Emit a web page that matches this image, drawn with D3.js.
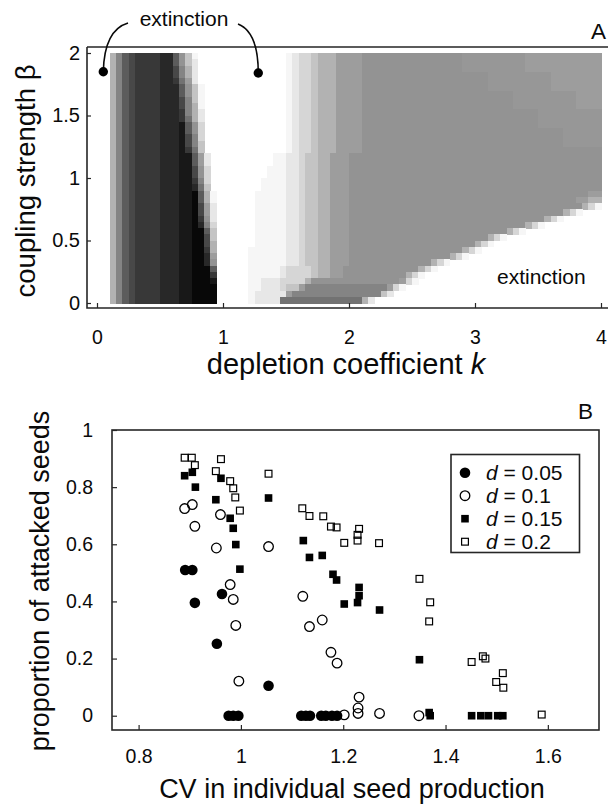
<!DOCTYPE html>
<html><head><meta charset="utf-8">
<script src="https://cdn.jsdelivr.net/npm/d3@7"></script>
<style>
body{margin:0;background:#fff}
svg{display:block}
text{font-family:"Liberation Sans",Arial,Helvetica,sans-serif;fill:#0a0a0a}
</style>
</head><body>
<svg id="chart" width="608" height="807"></svg>
<script>
// ---------------- DATA ----------------
// Panel A
const kTicks = [0, 1, 2, 3, 4];
const betaTicks = [0, 0.5, 1, 1.5, 2];
const heatKRange = [0.1, 4.0];      // k extent covered by the grid
const heatBetaRange = [0, 2];       // beta extent covered by the grid
// grey level per cell (0 = white ... f = black, u = between 6 and 7), rows from beta=2 (top) down to beta=0
const heatRows = [
 "58abccccdd"+"a741"+"00000000"+"000000"+"123345556666"+"7777777777"+"777777"+"uuuuuuuuuu"+"666666666666",
 "58abccccdd"+"a742"+"00000000"+"000000"+"123345556666"+"7777777777"+"777777"+"uuuuuuuuuu"+"666666666666",
 "58abccccdd"+"b852"+"00000000"+"000000"+"123345556666"+"7777777777"+"777777"+"uuuuuuuuuu"+"666666666666",
 "58abccccdd"+"b852"+"00000000"+"000000"+"123345556666"+"7777777777"+"7777777777"+"uuuuuuuuuu"+"66666666",
 "58abccccdd"+"c962"+"00000000"+"000000"+"123345556666"+"7777777777"+"7777777777"+"uuuuuuuuuu"+"66666666",
 "58abccccddd"+"a741"+"0000000"+"000000"+"123345556666"+"7777777777"+"7777777777"+"uuuuuuuuuu"+"66666666",
 "58abccccddd"+"a741"+"0000000"+"000000"+"123345556666"+"7777777777"+"7777777777"+"7777"+"uuuuuuuuuu"+"6666",
 "58abccccddd"+"b841"+"0000000"+"000000"+"123345556666"+"7777777777"+"7777777777"+"7777"+"uuuuuuuuuu"+"6666",
 "58abccccddd"+"b851"+"0000000"+"000000"+"123345556666"+"7777777777"+"7777777777"+"7777"+"uuuuuuuuuu"+"6666",
 "58abccccddd"+"c852"+"0000000"+"000000"+"123345556666"+"7777777777"+"7777777777"+"77777777"+"uuuuuuuuuu",
 "58abccccddd"+"c952"+"0000000"+"000000"+"123345556666"+"7777777777"+"7777777777"+"77777777"+"uuuuuuuuuu",
 "58abccccddde"+"a73"+"0000000"+"000000"+"123345556666"+"7777777777"+"7777777777"+"77777777"+"uuuuuuuuuu",
 "58abccccddde"+"a73"+"0000000"+"000000"+"123345556666"+"7777777777"+"7777777777"+"7777777777"+"77"+"uuuuuu",
 "58abccccddde"+"b83"+"0000000"+"000000"+"123345556666"+"7777777777"+"7777777777"+"7777777777"+"77"+"uuuuuu",
 "58abccccddde"+"b84"+"0000000"+"000000"+"123345556666"+"7777777777"+"7777777777"+"7777777777"+"77"+"uuuuuu",
 "58abccccddde"+"c94"+"0000000"+"000000"+"123345556666"+"7777777777"+"7777777777"+"7777777777"+"77777777",
 "58abccccdddee"+"a62"+"000000"+"000011"+"223445566677"+"7777777777"+"7777777777"+"7777777777"+"77777777",
 "58abccccdddee"+"a62"+"000000"+"000011"+"223445566677"+"7777777777"+"7777777777"+"7777777777"+"77777777",
 "58abccccdddee"+"b73"+"000000"+"000111"+"223445566677"+"7777777777"+"7777777777"+"7777777777"+"77777777",
 "58abccccdddee"+"b73"+"000000"+"000111"+"223445566677"+"7777777777"+"7777777777"+"7777777777"+"77777777",
 "58abccccdddee"+"c83"+"000000"+"001111"+"223445566677"+"7777777777"+"7777777777"+"7777777777"+"77777777",
 "58abccccdddee"+"d94"+"000000"+"001111"+"223445566677"+"7777777777"+"7777777777"+"7777777777"+"77777777",
 "58abccccdddeef"+"a51"+"00000"+"011111"+"223445566677"+"7777777777"+"7777777777"+"7777777777"+"777777"+"66",
 "58abccccdddeef"+"a51"+"00000"+"011111"+"223445566677"+"7777777777"+"7777777777"+"7777777777"+"7777"+"6655",
 "58abccccdddeef"+"b62"+"00000"+"011111"+"223445566677"+"7777777777"+"7777777777"+"7777777777"+"77777"+"531",
 "58abccccdddeef"+"b62"+"00000"+"011111"+"223445566677"+"7777777777"+"7777777777"+"7777777777"+"77"+"531"+"000",
 "58abccccdddeef"+"c72"+"00000"+"011111"+"223445566677"+"7777777777"+"7777777777"+"777777777"+"531"+"000000",
 "58abccccdddeef"+"d83"+"00000"+"011111"+"223445566677"+"7777777777"+"7777777777"+"777777"+"531"+"000000000",
 "58abccccdddeeff"+"a4"+"00000"+"011111"+"223445566677"+"7777777777"+"7777777777"+"777"+"531"+"0000000000"+"00",
 "58abccccdddeeff"+"b4"+"00000"+"011111"+"223445566677"+"7777777777"+"7777777777"+"531"+"0000000000"+"00000",
 "58abccccdddeeff"+"b5"+"00000"+"011111"+"223445566677"+"7777777777"+"77777777"+"531"+"0000000000"+"0000000",
 "58abccccdddeeff"+"c5"+"00000"+"111111"+"223445566677"+"7777777777"+"777777"+"531"+"0000000000"+"000000000",
 "58abccccdddeeff"+"d6"+"00000"+"111111"+"223445566677"+"7777777777"+"7777"+"531"+"0000000000"+"0000000000"+"0",
 "58abccccdddeeff"+"d7"+"00000"+"111111"+"223445566677"+"7777777777"+"7"+"531"+"0000000000"+"0000000000"+"0000",
 "58abccccdddeefff"+"a"+"00000"+"11111"+"233334"+"5566"+"7777777777"+"77"+"531"+"0000000000"+"0000000000"+"000000",
 "58abccccdddeefff"+"c"+"00000"+"11111"+"233334"+"5566"+"7777777777"+"531"+"0000000000"+"0000000000"+"00000000",
 "58abccccdddeefff"+"e"+"00000"+"11222"+"3333"+"5"+"7777777777"+"7777"+"631"+"0000000000"+"0000000000"+"000000000",
 "58abccccdddeeffff"+"00000"+"11222"+"344"+"6"+"8888888888"+"888"+"631"+"0000000000"+"0000000000"+"0000000000"+"0",
 "58abccccdddeeffff"+"00000"+"12222"+"2"+"6"+"8888888888"+"8888"+"42"+"0000000000"+"0000000000"+"0000000000"+"000",
 "58abccccdddeeffff"+"00000"+"12222"+"9999999999"+"999"+"52"+"0000000000"+"0000000000"+"0000000000"+"000000"
];
const extinctionDots = [[0.05, 1.85], [1.28, 1.84]];   // [k, beta]

// Panel B
const cvTicks = [0.8, 1, 1.2, 1.4, 1.6];
const propTicks = [0, 0.2, 0.4, 0.6, 0.8, 1];
const seriesLabels = ["0.05", "0.1", "0.15", "0.2"];
// [CV, proportion attacked]
const dPoint05 = [[0.891,0.510],[0.905,0.510],[0.910,0.395],[0.953,0.252],[0.963,0.426],[0.976,0],[0.985,0],[0.995,0],
  [1.054,0.105],[1.118,0],[1.127,0],[1.135,0],[1.157,0],[1.166,0],[1.178,0],[1.188,0]];
const dPoint10 = [[0.890,0.725],[0.905,0.739],[0.910,0.663],[0.952,0.587],[0.960,0.704],[0.979,0.459],[0.985,0.407],
  [0.990,0.316],[0.996,0.121],[1.054,0.592],[1.121,0.418],[1.134,0.312],[1.159,0.335],[1.176,0.222],[1.188,0.184],
  [1.202,0.003],[1.231,0.065],[1.229,0.027],[1.229,0.008],[1.271,0.008],[1.348,0.0]];
const dPoint15 = [[0.890,0.840],[0.905,0.852],[0.911,0.800],[0.951,0.756],[0.961,0.831],[0.979,0.691],[0.985,0.656],
  [0.990,0.599],[0.998,0.513],[1.054,0.762],[1.122,0.613],[1.134,0.554],[1.159,0.561],[1.180,0.495],[1.187,0.475],
  [1.202,0.391],[1.231,0.449],[1.231,0.420],[1.228,0.396],[1.271,0.370],[1.349,0.196],[1.368,0.011],[1.370,0.0],
  [1.451,0],[1.469,0],[1.484,0],[1.502,0],[1.512,0]];
const dPoint20 = [[0.890,0.903],[0.904,0.903],[0.910,0.877],[0.951,0.856],[0.961,0.898],[0.979,0.821],[0.985,0.796],
  [0.989,0.764],[0.998,0.718],[1.054,0.847],[1.120,0.726],[1.134,0.699],[1.161,0.698],[1.176,0.662],[1.187,0.659],
  [1.202,0.605],[1.231,0.654],[1.228,0.633],[1.228,0.613],[1.270,0.604],[1.349,0.479],[1.370,0.397],[1.368,0.330],
  [1.451,0.188],[1.473,0.208],[1.478,0.200],[1.499,0.118],[1.512,0.149],[1.513,0.098],[1.588,0.004]];

// ---------------- STYLE ----------------
const greyOf = {"0":"#ffffff","1":"#f6f6f6","2":"#e7e7e7","3":"#d6d6d6","4":"#c4c4c4","5":"#b2b2b2",
  "6":"#9d9d9d","u":"#979797","7":"#939393","8":"#848484","9":"#727272","a":"#5c5c5c","b":"#484848","c":"#383838",
  "d":"#282828","e":"#181818","f":"#080808"};
const INK = "#0a0a0a", LINE = "#262626";
const FONT = '"Liberation Sans", Arial, Helvetica, sans-serif';

const svg = d3.select("#chart");

// ================= PANEL A =================
const xk = d3.scaleLinear().domain([0, 4]).range([97, 601]);
const yb = d3.scaleLinear().domain([0, 2]).range([303, 53]);

const nCols = d3.max(heatRows, r => r.length);
const colBand = d3.scaleBand().domain(d3.range(nCols)).range([xk(heatKRange[0]), xk(heatKRange[1])]);
const rowBand = d3.scaleBand().domain(d3.range(heatRows.length)).range([yb(heatBetaRange[1]), yb(heatBetaRange[0])]);

const cells = [];
heatRows.forEach((row, r) => {
  for (let i = 0; i < row.length; i++) {
    if (row[i] !== "0") cells.push({r, i, v: row[i]});
  }
});
svg.append("g").attr("shape-rendering", "crispEdges")
  .selectAll("rect").data(cells).join("rect")
  .attr("x", d => colBand(d.i))
  .attr("y", d => rowBand(d.r))
  .attr("width", colBand.bandwidth() + 0.5)
  .attr("height", rowBand.bandwidth() + 0.5)
  .attr("fill", d => greyOf[d.v]);

// frame lines of A
const aLeft = 87, aTop = 47, aBottom = 308, aRight = 608;
svg.append("path").attr("d", `M${aLeft},${aTop}H${aRight}M${aLeft},${aTop}V${aBottom}H${aRight}`)
  .attr("fill", "none").attr("stroke", LINE).attr("stroke-width", 1.6);

function styleAxis(g, size) {
  g.select(".domain").remove();
  g.selectAll(".tick line").attr("stroke", LINE).attr("stroke-width", 1.2);
  g.selectAll(".tick text").attr("font-family", FONT).attr("font-size", size).attr("fill", INK);
}
svg.append("g").attr("transform", `translate(0,${aBottom})`)
  .call(d3.axisBottom(xk).tickValues(kTicks).tickSize(-5).tickPadding(22).tickFormat(d3.format("~g")))
  .call(g => styleAxis(g, 19.5));
svg.append("g").attr("transform", `translate(${aLeft},0)`)
  .call(d3.axisLeft(yb).tickValues(betaTicks).tickSize(-4).tickPadding(7).tickFormat(d3.format("~g")))
  .call(g => styleAxis(g, 20));

// titles A
const tA = svg.append("text").attr("x", 346).attr("y", 374).attr("text-anchor", "middle")
  .attr("font-size", 29).text("depletion coefficient ");
tA.append("tspan").attr("font-style", "italic").text("k");
svg.append("text").attr("transform", "translate(35,181) rotate(-90)").attr("text-anchor", "middle")
  .attr("font-size", 27.5).text("coupling strength β");
svg.append("text").attr("x", 606).attr("y", 39).attr("text-anchor", "end").attr("font-size", 22.5).text("A");

// extinction annotations
svg.append("text").attr("x", 184).attr("y", 26).attr("text-anchor", "middle").attr("font-size", 21).text("extinction");
svg.append("text").attr("x", 497).attr("y", 284).attr("font-size", 21).text("extinction");
const [dL, dR] = extinctionDots;
svg.append("path")
  .attr("d", `M128,23Q${xk(dL[0]) + 1},30 ${xk(dL[0])},${yb(dL[1])}`)
  .attr("fill", "none").attr("stroke", INK).attr("stroke-width", 1.6);
svg.append("path")
  .attr("d", `M238,24Q${xk(dR[0])},32 ${xk(dR[0])},${yb(dR[1])}`)
  .attr("fill", "none").attr("stroke", INK).attr("stroke-width", 1.6);
svg.selectAll("circle.dot").data(extinctionDots).join("circle").attr("class", "dot")
  .attr("cx", d => xk(d[0])).attr("cy", d => yb(d[1])).attr("r", 4.7).attr("fill", "#000");

// ================= PANEL B =================
const bL = 112, bR = 599, bT = 430, bB = 730;
const xcv = d3.scaleLinear().domain([0.748, 1.700]).range([bL, bR]);
const yp = d3.scaleLinear().domain([-0.05, 1]).range([bB, bT]);

svg.append("g").attr("transform", `translate(0,${bB})`)
  .call(d3.axisBottom(xcv).tickValues(cvTicks).tickSize(-5).tickPadding(19).tickFormat(d3.format("~g")))
  .call(g => styleAxis(g, 19.5));
svg.append("g").attr("transform", `translate(${bL},0)`)
  .call(d3.axisLeft(yp).tickValues(propTicks).tickSize(-5).tickPadding(19).tickFormat(d3.format("~g")))
  .call(g => styleAxis(g, 19.5));
svg.append("rect").attr("x", bL).attr("y", bT).attr("width", bR - bL).attr("height", bB - bT)
  .attr("fill", "none").attr("stroke", LINE).attr("stroke-width", 1.6);

const markers = {
  fc: (g) => g.append("circle").attr("r", 5.3).attr("fill", "#000"),
  oc: (g) => g.append("circle").attr("r", 4.8).attr("fill", "none").attr("stroke", "#000").attr("stroke-width", 1.3),
  fs: (g) => g.append("rect").attr("x", -3.8).attr("y", -3.8).attr("width", 7.6).attr("height", 7.6).attr("fill", "#000"),
  os: (g) => g.append("rect").attr("x", -3.4).attr("y", -3.4).attr("width", 6.8).attr("height", 6.8)
               .attr("fill", "none").attr("stroke", "#000").attr("stroke-width", 1.2)
};
const seriesData = [dPoint05, dPoint10, dPoint15, dPoint20];
const seriesMarker = ["fc", "oc", "fs", "os"];
seriesData.forEach((pts, s) => {
  const g = svg.append("g");
  pts.forEach(p => {
    const m = g.append("g").attr("transform", `translate(${xcv(p[0])},${yp(p[1])})`);
    markers[seriesMarker[s]](m);
  });
});

// legend
const lg = svg.append("g");
lg.append("rect").attr("x", 451).attr("y", 454.5).attr("width", 128.5).attr("height", 98)
  .attr("fill", "#fff").attr("stroke", LINE).attr("stroke-width", 1.6);
seriesLabels.forEach((lab, i) => {
  const cy = 472.7 + i * 23;
  const m = lg.append("g").attr("transform", `translate(465,${cy})`);
  markers[seriesMarker[i]](m);
  const t = lg.append("text").attr("x", 486).attr("y", cy + 7.3).attr("font-size", 21);
  t.append("tspan").attr("font-style", "italic").text("d");
  t.append("tspan").text(" = " + lab);
});

// titles B
svg.append("text").attr("x", 352).attr("y", 798).attr("text-anchor", "middle").attr("font-size", 27)
  .text("CV in individual seed production");
svg.append("text").attr("transform", "translate(49,581) rotate(-90)").attr("text-anchor", "middle")
  .attr("font-size", 27).text("proportion of attacked seeds");
svg.append("text").attr("x", 593).attr("y", 419).attr("text-anchor", "end").attr("font-size", 22.5).text("B");
</script>
</body></html>
